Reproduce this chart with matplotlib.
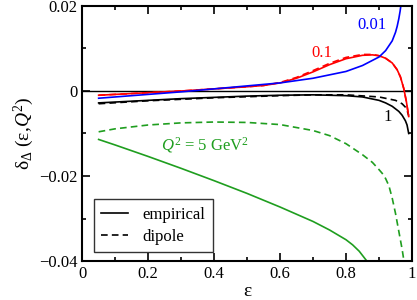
import matplotlib
matplotlib.use("Agg")
import matplotlib.pyplot as plt
from matplotlib.ticker import MultipleLocator, FuncFormatter
from matplotlib.lines import Line2D

plt.rcParams['font.family'] = ['Liberation Serif', 'DejaVu Serif']
plt.rcParams['mathtext.fontset'] = 'custom'
plt.rcParams['mathtext.rm'] = 'Liberation Serif'
plt.rcParams['mathtext.it'] = 'Liberation Serif:italic'

# Q^2 = 5 GeV^2 (green)
g_sol_x = [0.05, 0.1, 0.2, 0.3, 0.4, 0.5, 0.6, 0.7, 0.75, 0.8, 0.82, 0.84, 0.86, 0.875]
g_sol_y = [-0.0114, -0.0127, -0.0154, -0.0182, -0.0211, -0.0241, -0.0273, -0.0307, -0.0327, -0.0350,
           -0.0362, -0.0377, -0.0397, -0.0412]
g_das_x = [0.05, 0.1, 0.2, 0.3, 0.4, 0.5, 0.6, 0.7, 0.75, 0.8, 0.85, 0.88, 0.9, 0.91, 0.92, 0.93,
           0.94, 0.95, 0.96, 0.97, 0.978]
g_das_y = [-0.0096, -0.0089, -0.0080, -0.0075, -0.0073, -0.0074, -0.0079, -0.0093, -0.0105, -0.0124,
           -0.0150, -0.0168, -0.0185, -0.0194, -0.0206, -0.0223, -0.0252, -0.0288, -0.0330, -0.0372, -0.0412]
# Q^2 = 1 (black)
k_sol_x = [0.05, 0.1, 0.2, 0.3, 0.4, 0.5, 0.6, 0.7, 0.8, 0.85, 0.9, 0.92, 0.94, 0.96, 0.97, 0.98, 0.985, 0.99]
k_sol_y = [-0.0028, -0.0026, -0.0022, -0.0018, -0.0015, -0.0012, -0.0010, -0.0009, -0.0011, -0.0014,
           -0.0022, -0.0028, -0.0036, -0.0048, -0.0057, -0.0070, -0.0080, -0.0100]
k_das_x = [0.05, 0.2, 0.4, 0.6, 0.7, 0.8, 0.9, 0.95, 0.97, 0.98, 0.985, 0.99]
k_das_y = [-0.0030, -0.0023, -0.0016, -0.0011, -0.0009, -0.0009, -0.0014, -0.0022, -0.0030, -0.0038,
           -0.0045, -0.0058]
# Q^2 = 0.1 (red)
r_x = [0.05, 0.1, 0.2, 0.3, 0.4, 0.5, 0.55, 0.6, 0.65, 0.7, 0.75, 0.8, 0.85, 0.88, 0.9, 0.92, 0.94,
       0.955, 0.965, 0.975, 0.983, 0.99]
r_sol_y = [-0.0010, -0.0008, -0.0004, 0.0000, 0.0005, 0.0010, 0.0013, 0.0019, 0.0030, 0.0045, 0.0062,
           0.0076, 0.0084, 0.0085, 0.0083, 0.0077, 0.0066, 0.0050, 0.0033, 0.0006, -0.0025, -0.0060]
r_das_y = [-0.0010, -0.0008, -0.0004, 0.0000, 0.0005, 0.0010, 0.0013, 0.0020, 0.0032, 0.0048, 0.0065,
           0.0079, 0.0086, 0.0086, 0.0083, 0.0077, 0.0066, 0.0050, 0.0033, 0.0006, -0.0025, -0.0060]
# Q^2 = 0.01 (blue)
b_x = [0.05, 0.1, 0.2, 0.3, 0.4, 0.5, 0.6, 0.7, 0.8, 0.85, 0.9, 0.92, 0.94, 0.95, 0.955, 0.96, 0.964, 0.967]
b_y = [-0.0017, -0.0014, -0.0008, -0.0002, 0.0005, 0.0012, 0.0019, 0.0030, 0.0046, 0.0060, 0.0080,
       0.0095, 0.0118, 0.0138, 0.0152, 0.0170, 0.0188, 0.0205]

fig = plt.figure(figsize=(4.17, 3.0), dpi=100)
ax = fig.add_axes([0.197, 0.13, 0.791, 0.85])

ax.axhline(0, color='black', lw=1.0)
green = '#1f9e1f'
dash = (0, (4, 2.5))
lw = 1.2
ax.plot(g_sol_x, g_sol_y, color=green, lw=lw)
ax.plot(g_das_x, g_das_y, color=green, lw=lw, ls=dash)
ax.plot(k_sol_x, k_sol_y, color='black', lw=lw)
ax.plot(k_das_x, k_das_y, color='black', lw=lw, ls=dash)
ax.plot(r_x, r_das_y, color='red', lw=lw, ls=dash)
ax.plot(r_x, r_sol_y, color='red', lw=lw)
ax.plot(b_x, b_y, color='blue', lw=lw)

ax.text(0.88, 0.0156, '0.01', color='blue', fontsize=12, ha='center', va='center')
ax.text(0.726, 0.0089, '0.1', color='red', fontsize=12, ha='center', va='center')
ax.text(0.926, -0.0062, '1', color='black', fontsize=12, ha='center', va='center')
ax.text(0.373, -0.0127, r'$Q^2$ = 5 GeV$^2$', color=green, fontsize=12, ha='center', va='center')

ax.set_xlim(0, 1)
ax.set_ylim(-0.04, 0.02)
ax.xaxis.set_major_locator(MultipleLocator(0.2))
ax.xaxis.set_minor_locator(MultipleLocator(0.1))
ax.yaxis.set_major_locator(MultipleLocator(0.02))
ax.yaxis.set_minor_locator(MultipleLocator(0.01))

def xfmt(v, p):
    if abs(v) < 1e-9:
        return '0'
    if abs(v - 1) < 1e-9:
        return '1'
    return f'{v:.1f}'

def yfmt(v, p):
    if abs(v) < 1e-9:
        return '0'
    return f'{v:.2f}'.replace('-', '\u2212')

ax.xaxis.set_major_formatter(FuncFormatter(xfmt))
ax.yaxis.set_major_formatter(FuncFormatter(yfmt))
ax.tick_params(which='both', direction='in', top=True, right=True, labelsize=12, width=1.2)
ax.tick_params(which='major', length=6)
ax.tick_params(which='minor', length=3)
for s in ax.spines.values():
    s.set_linewidth(1.5)

ax.set_xlabel('\u03b5', fontsize=14, labelpad=1)
ax.set_ylabel('$\\mathregular{\\delta_{\\Delta}}$ (\u03b5,$Q^2$)', fontsize=14, labelpad=2)

handles = [Line2D([], [], color='black', lw=lw),
           Line2D([], [], color='black', lw=lw, ls=dash)]
leg = ax.legend(handles, ['empirical', 'dipole'], loc='lower left', bbox_to_anchor=(0.035, 0.035),
                fontsize=12, frameon=True, fancybox=False, edgecolor='black', handlelength=1.6,
                borderpad=0.45, labelspacing=0.35, handletextpad=0.9, borderaxespad=0)
leg.get_frame().set_linewidth(1.0)

fig.savefig('out.png', dpi=100)
